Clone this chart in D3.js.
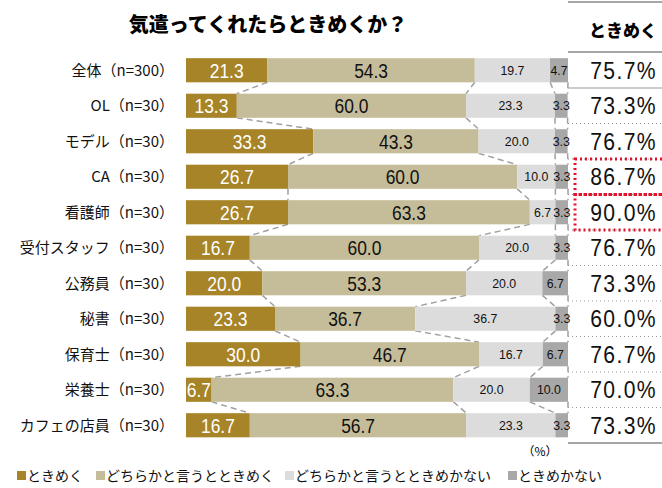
<!DOCTYPE html>
<html>
<head>
<meta charset="utf-8">
<script src="https://cdn.jsdelivr.net/npm/d3@7"></script>
<style>
  body { margin: 0; background: #fff; }
  svg { display: block; font-family: "Noto Sans CJK JP", sans-serif; }
  .num { font-family: "Liberation Sans", Arial, sans-serif; }
</style>
</head>
<body>
<svg id="chart"></svg>
<script>
// data
const categories = ['全体（n=300）', 'OL（n=30）', 'モデル（n=30）', 'CA（n=30）', '看護師（n=30）',
  '受付スタッフ（n=30）', '公務員（n=30）', '秘書（n=30）', '保育士（n=30）', '栄養士（n=30）', 'カフェの店員（n=30）'];
const seriesNames = ['ときめく', 'どちらかと言うとときめく', 'どちらかと言うとときめかない', 'ときめかない'];
const tokimeku       = [21.3, 13.3, 33.3, 26.7, 26.7, 16.7, 20.0, 23.3, 30.0, 6.7, 16.7];
const dochiraTokimeku = [54.3, 60.0, 43.3, 60.0, 63.3, 60.0, 53.3, 36.7, 46.7, 63.3, 56.7];
const dochiraNai     = [19.7, 23.3, 20.0, 10.0, 6.7, 20.0, 20.0, 36.7, 16.7, 20.0, 23.3];
const tokimekanai    = [4.7, 3.3, 3.3, 3.3, 3.3, 3.3, 6.7, 3.3, 6.7, 10.0, 3.3];
const totals = ['75.7%', '73.3%', '76.7%', '86.7%', '90.0%', '76.7%', '73.3%', '60.0%', '76.7%', '70.0%', '73.3%'];
const highlighted = ['CA（n=30）', '看護師（n=30）'];

const colors = ['#A68427', '#C5BD9A', '#DCDCDC', '#A8A8A8'];
const width = 662, height = 488;

const svg = d3.select('#chart').attr('width', width).attr('height', height);

const x = d3.scaleLinear().domain([0, 100]).range([186, 568]);
const y = d3.scaleBand().domain(categories).range([52.5, 443]).paddingInner(0.32).paddingOuter(0.16);
const bh = y.bandwidth();

const series = [tokimeku, dochiraTokimeku, dochiraNai, tokimekanai];
const rows = categories.map((c, i) => {
  let acc = 0;
  const segs = series.map((s, k) => {
    const seg = {k, v: s[i], x0: acc, x1: acc + s[i]};
    acc += s[i];
    return seg;
  });
  return {cat: c, i, segs};
});

// title
svg.append('text')
  .attr('x', 268).attr('y', 32)
  .attr('text-anchor', 'middle')
  .attr('font-size', 20).attr('font-weight', 900)
  .text('気遣ってくれたらときめくか？');

// dashed connectors between bars
const conn = svg.append('g').attr('stroke', '#A0A0A0').attr('stroke-width', 1.5)
  .attr('stroke-dasharray', '6,4').attr('fill', 'none');
for (let i = 0; i < rows.length - 1; i++) {
  rows[i].segs.forEach((s, k) => {
    const nx = Math.min(rows[i + 1].segs[k].x1, 100);
    conn.append('line')
      .attr('x1', x(Math.min(s.x1, 100))).attr('y1', y(rows[i].cat) + bh)
      .attr('x2', x(nx)).attr('y2', y(rows[i + 1].cat));
  });
}

// bars
const rowG = svg.selectAll('.row').data(rows).join('g')
  .attr('class', 'row')
  .attr('transform', d => `translate(0,${y(d.cat)})`);

rowG.selectAll('rect').data(d => d.segs).join('rect')
  .attr('x', d => x(d.x0))
  .attr('width', d => x(Math.min(d.x1, 100)) - x(d.x0))
  .attr('height', bh)
  .attr('fill', d => colors[d.k]);

// number labels; big ones squeezed like the original narrow font
rowG.selectAll('.num').data(d => d.segs).join('text')
  .attr('class', 'num')
  .attr('transform', d => `translate(${(x(d.x0) + x(Math.min(d.x1, 100))) / 2},${bh / 2}) scale(${d.k < 2 ? 0.85 : 0.95},1)`)
  .attr('dy', '0.36em')
  .attr('text-anchor', 'middle')
  .attr('font-size', d => d.k < 2 ? 20.5 : 13)
  .attr('fill', d => d.k === 0 ? '#fff' : '#111')
  .text(d => d.v.toFixed(1));

// category labels
svg.append('g').selectAll('text').data(categories).join('text')
  .attr('x', 174)
  .attr('y', d => y(d) + bh / 2)
  .attr('dy', '0.36em')
  .attr('text-anchor', 'end')
  .attr('font-size', 15)
  .attr('fill', '#111')
  .text(d => d);

// right column
const colX0 = 568, colX1 = 662;
const col = svg.append('g');
col.append('line').attr('x1', colX0).attr('x2', colX1).attr('y1', 2).attr('y2', 2)
  .attr('stroke', '#888').attr('stroke-width', 1.5);
col.append('text')
  .attr('x', 657).attr('y', 31).attr('dy', '0.36em')
  .attr('text-anchor', 'end').attr('font-size', 17).attr('font-weight', 900)
  .text(seriesNames[0]);
col.append('line').attr('x1', colX0).attr('x2', colX1).attr('y1', 52).attr('y2', 52)
  .attr('stroke', '#888').attr('stroke-width', 1.5);

const step = y.step();
categories.forEach((c, i) => {
  if (i === categories.length - 1) return;
  const yy = y(c) + bh / 2 + step / 2;
  col.append('line').attr('x1', colX0).attr('x2', colX1).attr('y1', yy).attr('y2', yy)
    .attr('stroke', '#999')
    .attr('stroke-width', i === 0 ? 1.2 : 1)
    .attr('stroke-dasharray', i === 0 ? null : '1,3');
});
const lastY = y(categories[categories.length - 1]) + bh / 2 + step / 2;
col.append('line').attr('x1', colX0).attr('x2', colX1).attr('y1', lastY).attr('y2', lastY)
  .attr('stroke', '#888').attr('stroke-width', 1.5);

col.selectAll('.total').data(categories).join('text')
  .attr('class', 'total')
  .attr('transform', d => `translate(657,${y(d) + bh / 2}) scale(0.92,1)`)
  .attr('dy', '0.36em')
  .attr('text-anchor', 'end')
  .attr('font-family', '"Liberation Sans", Arial, sans-serif')
  .attr('font-size', 23)
  .attr('letter-spacing', 1.5)
  .attr('fill', '#111')
  .text((d, i) => totals[i]);

// highlight boxes
highlighted.forEach(c => {
  const cy = y(c) + bh / 2;
  svg.append('rect')
    .attr('x', 575).attr('y', cy - step / 2)
    .attr('width', 95).attr('height', step)
    .attr('fill', 'none').attr('stroke', '#E5102B')
    .attr('stroke-width', 3).attr('stroke-dasharray', '2,3');
});

// unit
svg.append('text')
  .attr('x', 540).attr('y', 452).attr('dy', '0.36em')
  .attr('text-anchor', 'middle').attr('font-size', 12)
  .text('（%）');

// legend
const legendX = [17, 96, 285, 508];
const lg = svg.append('g').selectAll('g').data(seriesNames).join('g')
  .attr('transform', (d, i) => `translate(${legendX[i]},476)`);
lg.append('rect').attr('x', 0).attr('y', -5).attr('width', 9).attr('height', 9)
  .attr('fill', (d, i) => colors[i]);
lg.append('text').attr('x', 10).attr('y', 0).attr('dy', '0.36em')
  .attr('font-size', 14).attr('fill', '#111')
  .text(d => d);
</script>
</body>
</html>
